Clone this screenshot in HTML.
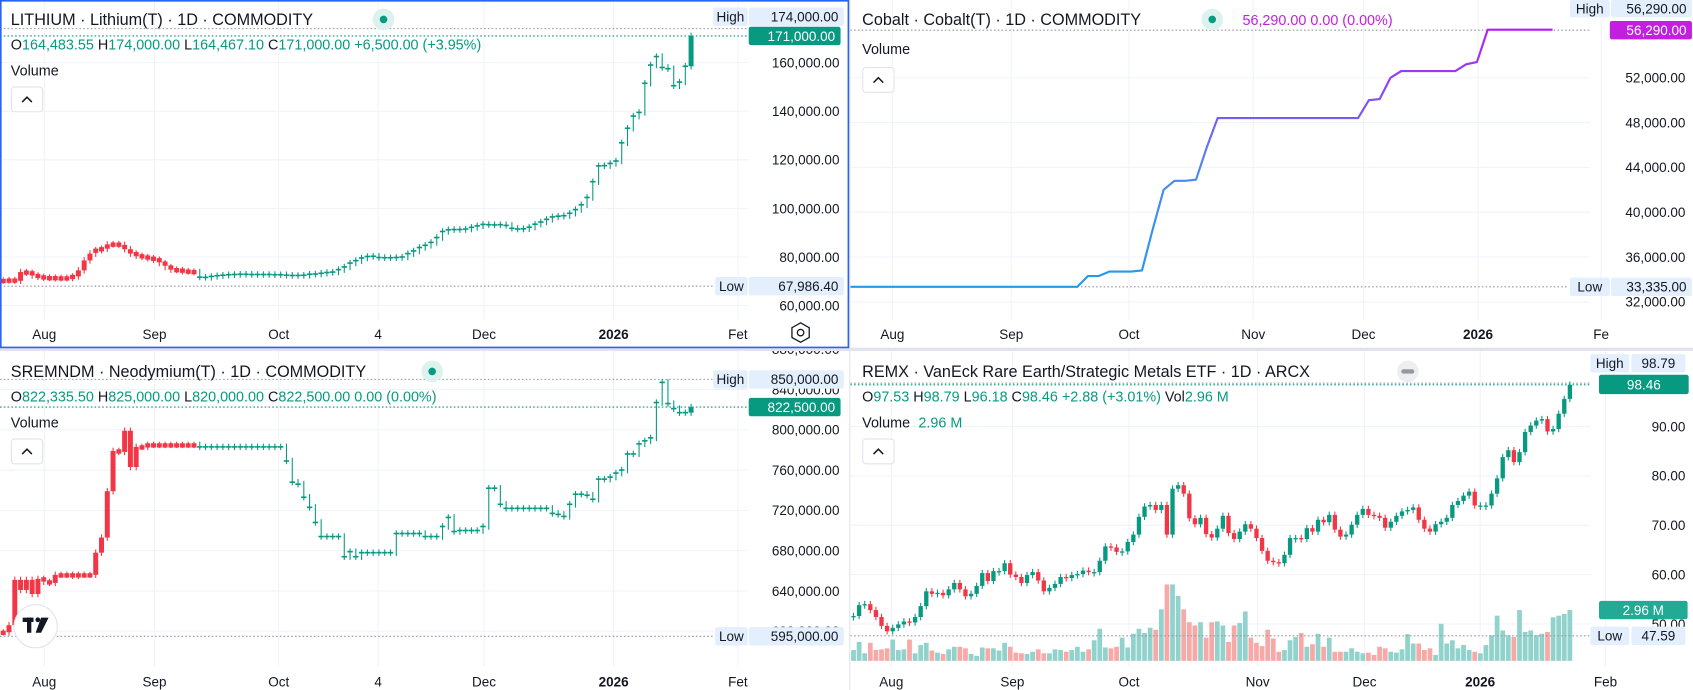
<!DOCTYPE html>
<html><head><meta charset="utf-8">
<style>
html,body{margin:0;padding:0;background:#fff;overflow:hidden;}
svg{display:block;font-family:"Liberation Sans",sans-serif;}
.t{fill:#131722;}
.ax{font-size:12.5px;fill:#131722;}
.tm{font-size:12.5px;fill:#131722;}
</style></head>
<body>
<svg id="root" width="1693" height="690" viewBox="0 0 1567 639" preserveAspectRatio="none" xmlns="http://www.w3.org/2000/svg">
<defs>
<clipPath id="cLT"><rect x="0" y="0" width="693" height="297"/></clipPath>
<clipPath id="cLB"><rect x="0" y="325" width="693" height="292"/></clipPath>
<clipPath id="cRT"><rect x="787" y="0" width="685" height="297"/></clipPath>
<clipPath id="cRB"><rect x="787" y="325" width="685" height="292"/></clipPath>
<clipPath id="cAxLB"><rect x="693" y="325" width="92" height="292"/></clipPath>
<clipPath id="cAxRT"><rect x="1472" y="0" width="95" height="297"/></clipPath>
<clipPath id="cAxRB"><rect x="1472" y="325" width="95" height="292"/></clipPath>
<linearGradient id="cobaltGrad" gradientUnits="userSpaceOnUse" x1="0" y1="266" x2="0" y2="28">
<stop offset="0" stop-color="#1e9de6"/><stop offset="0.45" stop-color="#4f86f2"/><stop offset="0.7" stop-color="#7d55f2"/><stop offset="1" stop-color="#b61ff0"/>
</linearGradient>
</defs>
<rect x="0" y="0" width="1567" height="639" fill="#fff"/>
<g id="gLT"></g>
<g id="gRT"></g>
<g id="gLB"></g>
<g id="gRB"></g>

<line x1="786.5" y1="0" x2="786.5" y2="639" stroke="#e0e3eb" stroke-width="1"/>
<rect x="0" y="322" width="1567" height="3" fill="#e0e3eb"/>
<rect x="0.75" y="0.75" width="784.5" height="321" fill="none" stroke="#2962ff" stroke-width="1.5"/>

<text x="10" y="23" font-size="15" class="t">LITHIUM · Lithium(T) · 1D · COMMODITY</text>
<g><circle cx="355" cy="18" r="10" fill="#dcf2ee"/><circle cx="355" cy="18" r="3.5" fill="#089981"/></g>
<text x="10" y="46" font-size="13.3" fill="#089981"><tspan class="t">O</tspan>164,483.55 <tspan class="t">H</tspan>174,000.00 <tspan class="t">L</tspan>164,467.10 <tspan class="t">C</tspan>171,000.00 +6,500.00 (+3.95%)</text>
<text x="10" y="70" font-size="13.3" class="t">Volume</text>
<g><rect x="10.5" y="80.5" width="29" height="23" rx="3" fill="#fff" stroke="#e0e3eb"/><path d="M20.5 94.5 L25 90 L29.5 94.5" fill="none" stroke="#131722" stroke-width="1.4"/></g>
<g><polygon points="741,299 749,303.5 749,312.5 741,317 733,312.5 733,303.5" fill="none" stroke="#131722" stroke-width="1.2"/><circle cx="741" cy="308" r="3" fill="none" stroke="#131722" stroke-width="1.2"/></g>

<text x="798" y="23" font-size="15" class="t">Cobalt · Cobalt(T) · 1D · COMMODITY</text>
<g><circle cx="1122" cy="18" r="10" fill="#dcf2ee"/><circle cx="1122" cy="18" r="3.5" fill="#089981"/></g>
<text x="1150" y="23" font-size="13.3" fill="#c41fe0">56,290.00 0.00 (0.00%)</text>
<text x="798" y="50" font-size="13.3" class="t">Volume</text>
<g><rect x="798.5" y="62.5" width="29" height="23" rx="3" fill="#fff" stroke="#e0e3eb"/><path d="M808.5 76.5 L813 72 L817.5 76.5" fill="none" stroke="#131722" stroke-width="1.4"/></g>

<text x="10" y="349" font-size="15" class="t">SREMNDM · Neodymium(T) · 1D · COMMODITY</text>
<g><circle cx="400" cy="344" r="10" fill="#dcf2ee"/><circle cx="400" cy="344" r="3.5" fill="#089981"/></g>
<text x="10" y="372" font-size="13.3" fill="#089981"><tspan class="t">O</tspan>822,335.50 <tspan class="t">H</tspan>825,000.00 <tspan class="t">L</tspan>820,000.00 <tspan class="t">C</tspan>822,500.00 0.00 (0.00%)</text>
<text x="10" y="396" font-size="13.3" class="t">Volume</text>
<g><rect x="10.5" y="406.5" width="29" height="23" rx="3" fill="#fff" stroke="#e0e3eb"/><path d="M20.5 420.5 L25 416 L29.5 420.5" fill="none" stroke="#131722" stroke-width="1.4"/></g>
<g><circle cx="33" cy="580" r="20" fill="#fff" stroke="#e0e3eb"/><rect x="21" y="572" width="10" height="4" fill="#131722"/><rect x="25" y="572" width="4" height="14" fill="#131722"/><circle cx="35" cy="574" r="2.2" fill="#131722"/><polygon points="38,572 45,572 38,586 33,586" fill="#131722"/></g>

<text x="798" y="349" font-size="15" class="t">REMX · VanEck Rare Earth/Strategic Metals ETF · 1D · ARCX</text>
<g><circle cx="1303" cy="344" r="10" fill="#eceef2"/><rect x="1297" y="342" width="12" height="4" rx="2" fill="#9598a1"/></g>
<text x="798" y="372" font-size="13.3" fill="#089981"><tspan class="t">O</tspan>97.53 <tspan class="t">H</tspan>98.79 <tspan class="t">L</tspan>96.18 <tspan class="t">C</tspan>98.46 +2.88 (+3.01%) <tspan class="t">Vol</tspan>2.96 M</text>
<text x="798" y="396" font-size="13.3" class="t">Volume <tspan fill="#089981" dx="4">2.96 M</tspan></text>
<g><rect x="798.5" y="406.5" width="29" height="23" rx="3" fill="#fff" stroke="#e0e3eb"/><path d="M808.5 420.5 L813 416 L817.5 420.5" fill="none" stroke="#131722" stroke-width="1.4"/></g>

<g id="labels"></g>
</svg>
<script>
const lithiumCloses=[70.3,70.5,70.2,73.8,73.5,72.4,71.8,71.4,71.5,71.2,
71.4,71.3,72,74.5,78.6,81.4,82.8,83.4,85.2,85.3,
85,83.2,81.4,80.5,80,79.5,78.9,77.5,75.9,74.8,
74.6,74.2,74,73.8,71.7,71.6,72,72.3,72.5,72.7,
72.8,72.9,72.9,72.8,72.8,72.8,72.8,72.7,72.7,72.5,
72.4,72.4,72.5,72.9,73,73.3,73.6,73.8,74.8,75.9,
77.5,78.5,79.6,80.2,80.3,79.8,79.7,79.7,79.8,80,
81.4,82.5,83.9,84.8,86,88,90.5,91.2,91.3,91.3,
91.5,92.2,92.8,93.4,93.3,93.2,93.3,93,91.8,91.5,
91.6,92.3,93.5,94.4,95.5,96.5,96.8,97,98,99.5,
101.5,104.5,111,117.5,117.6,118.5,119.5,127,133,138,
139.5,151.5,159,162.5,158,157.5,150.5,152,158.5,171];
const lithiumTicks=[60,80,100,120,140,160];
const lithiumTickLabels=["60,000.00","80,000.00","100,000.00","120,000.00","140,000.00","160,000.00"];
const lithiumRedBars=34;

const neoCloses=[599,606,651,641,651,637,652,649,648,656,
656,656,655,656,656,656,678,693,739,779,
778,799,763,783,783,785,785,785,785,785,
785,785,785,785,783,783,783,783,783,783,
783,783,783,783,783,783,783,783,783,769,
748,746,733,723,708,694,694,694,694,674,
679,674,678,678,678,678,678,678,697,697,
697,697,697,694,694,694,704,713,699,700,
700,700,700,704,742,742,726,722,722,722,
722,722,722,722,722,717,716,714,726,736,
736,735,731,751,751,753,757,760,776,776,
786,789,792,827,847,826,821,817,817,822.5];
const neoTicks=[600,640,680,720,760,800,840,880];
const neoTickLabels=["600,000.00","640,000.00","680,000.00","720,000.00","760,000.00","800,000.00","840,000.00","880,000.00"];
const neoRedBars=34;

const cobaltValues=[33335,33335,33335,33335,33335,33335,33335,33335,33335,33335,
33335,33335,33335,33335,33335,33335,33335,33335,33335,33335,
33335,33335,34300,34300,34700,34700,34700,34800,38500,42000,
42800,42800,42900,45800,48400,48400,48400,48400,48400,48400,
48400,48400,48400,48400,48400,48400,48400,48400,50000,50100,
52000,52600,52600,52600,52600,52600,52600,53200,53400,56290,
56290,56290,56290,56290,56290,56290];
const cobaltTicks=[32000,36000,40000,44000,48000,52000];
const cobaltTickLabels=["32,000.00","36,000.00","40,000.00","44,000.00","48,000.00","52,000.00"];

const remxCloses=[51.6,53.8,54,52.8,51.4,49.6,48.5,49.2,49.9,50.5,
50.3,51.4,53.6,56.6,56.1,56.3,55.8,57,58.3,57,
55.6,56.1,57.7,60.3,58.7,60.7,60.7,62.3,60,59.5,
58.3,59.9,60.5,58.8,56.6,57.3,58.1,59.5,59.3,59.9,
60.1,60.8,60.5,60.5,62.8,65.7,65.5,64.6,64.7,66.6,
68.1,71.7,73.8,74.1,73.1,74.1,68.1,77.4,78.1,76.4,
71.4,70.2,71.5,68.2,67.5,69.3,71.9,68.4,67.2,68.7,
70.2,69.3,67.4,64.8,62.8,62.5,62.3,64,67.4,67.4,
67.2,69.4,68.7,71.1,70.6,72.1,69.1,67.7,68.1,70.1,
72.1,73.3,72.1,71.9,71.5,69.5,70.7,71.9,72.8,73.1,
73.6,71.1,69.3,68.7,70.2,70.7,71.5,74.1,74.9,76,
76.8,74,74,74,76.4,79.5,83.8,85.2,82.8,84.8,
88.9,90.2,91.2,91.5,89,89.5,92.6,95.6,98.46];
const remxVolumes=[0.63,1.1,0.44,1.05,0.63,0.67,0.73,1.24,0.63,0.67,
1.24,0.44,0.92,1.05,0.6,0.48,0.4,0.67,0.82,0.82,
0.73,0.4,0.29,0.78,0.73,0.73,0.6,1.05,0.82,0.48,
0.44,0.4,0.53,0.67,0.44,0.44,0.67,0.63,0.53,0.63,
0.82,0.53,0.67,1.2,1.87,0.78,0.73,0.82,1.35,0.78,
1.58,1.87,1.62,1.93,1.81,3.0,4.45,4.45,3.78,3.0,
2.25,2.06,2.25,1.35,2.25,2.3,2.06,1.1,2.06,2.2,
2.88,1.35,1.05,0.86,1.81,1.3,0.53,0.63,1.2,1.39,
1.62,0.82,0.97,1.58,0.82,1.35,0.53,0.53,0.53,0.73,
0.53,0.44,0.48,0.34,0.82,0.73,0.53,0.48,0.67,1.55,
1.01,1.01,0.63,0.73,0.34,2.16,1.01,1.2,0.73,0.92,
0.63,0.53,0.44,0.92,1.49,2.63,1.77,1.49,1.39,2.96,
1.68,1.77,1.49,1.58,1.68,2.54,2.63,2.73,2.96];
const remxTicks=[50,60,70,80,90];
const remxTickLabels=["50.00","60.00","70.00","80.00","90.00"];

const leftTimeLabels=["Aug","Sep","Oct","4","Dec","2026","Fet"];
const rightTopTimeLabels=["Aug","Sep","Oct","Nov","Dec","2026","Fe"];
const rightBottomTimeLabels=["Aug","Sep","Oct","Nov","Dec","2026","Feb"];

const leftTimeX=[41,143,258,350,448,568,683];
const rightTopTimeX=[826,936,1045,1160,1262,1368,1482];
const rightBottomTimeX=[825,937,1045,1164,1263,1370,1486];

const NS="http://www.w3.org/2000/svg";
const UP="#089981", DOWN="#f23645";
function mk(tag,attrs,parent){const e=document.createElementNS(NS,tag);for(const k in attrs)e.setAttribute(k,attrs[k]);if(parent)parent.appendChild(e);return e;}

const yL=p=>58+(160-p)*2.25, xL=i=>3+i*5.35;
const yN=p=>398+(800-p)*0.933, xN=i=>3+i*5.35;
const yC=p=>72+(52000-p)*0.010375, xC=i=>787+i*10;
const yR=p=>395+(90-p)*4.57, xR=i=>790+i*5.18;
const yV=v=>612-v*15.9;

function grid(g,ys,xs,x0,x1,y0,y1){
  ys.forEach(y=>{const l=mk('line',{x1:x0,x2:x1,y1:y,y2:y,stroke:'#f0f3fa','stroke-width':1},g);
    
    });
  xs.forEach(x=>{const l=mk('line',{x1:x,x2:x,y1:y0,y2:y1,stroke:'#f0f3fa','stroke-width':1},g);
    
    });
}
function axisLabels(g,vals,labels,yf,xr,clip){
  const ag=mk('g',{'clip-path':clip?'url(#'+clip+')':''},g);
  vals.forEach((v,i)=>{const t=mk('text',{x:xr,y:yf(v)+4.5,'text-anchor':'end',class:'ax'},ag);
    
    
    t.textContent=labels[i];});
}
function timeLabels(g,labels,xs,y){
  labels.forEach((s,i)=>{const t=mk('text',{x:xs[i],y:y,'text-anchor':'middle',class:'tm','font-weight':s==='2026'?'bold':'normal'},g);
    
    
    t.textContent=s;});
}
function tickBars(g,closes,xf,yf,redUntil,name){
  closes.forEach((c,i)=>{
    const o=i>0?closes[i-1]:c;
    const x=xf(i), yo=yf(o), yc=yf(c);
    const red=i<redUntil;
    const col=red?DOWN:UP;
    const top=Math.min(yo,yc)-3, bot=Math.max(yo,yc)+3;
    const w=mk('line',{x1:x,x2:x,y1:top,y2:bot,stroke:col,'stroke-width':1},g);
    
    
    let b;
    if(red){const h=Math.max(Math.abs(yc-yo),4);const yt=Math.min(yo,yc)-(h>Math.abs(yc-yo)?1.5:0);
      b=mk('rect',{x:x-2.3,y:yt,width:4.6,height:h,fill:col},g);}
    else if(i===closes.length-1){b=mk('rect',{x:x-2.3,y:Math.min(yo,yc),width:4.6,height:Math.max(Math.abs(yc-yo),1.5),fill:col},g);}
    else {b=mk('rect',{x:x-2.5,y:yc-0.75,width:5,height:1.5,fill:col},g);}
    
    
  });
}

(function(){
  const g=document.getElementById('gLT');
  grid(g,lithiumTicks.map(yL),leftTimeX,0,693,0,297);
  const pg=mk('g',{'clip-path':'url(#cLT)'},g);
  mk('line',{x1:0,x2:693,y1:yL(174),y2:yL(174),stroke:'#9598a1','stroke-dasharray':'1.5 2'},pg);
  mk('line',{x1:0,x2:693,y1:yL(171),y2:yL(171),stroke:UP,'stroke-dasharray':'1.5 2'},pg);
  mk('line',{x1:0,x2:660,y1:yL(67.9864),y2:yL(67.9864),stroke:'#9598a1','stroke-dasharray':'1.5 2'},pg);
  tickBars(pg,lithiumCloses,xL,yL,lithiumRedBars,'lithium');
  axisLabels(g,lithiumTicks,lithiumTickLabels,yL,777);
  timeLabels(g,leftTimeLabels,leftTimeX,314);
})();

(function(){
  const g=document.getElementById('gLB');
  grid(g,neoTicks.map(yN),leftTimeX,0,693,325,617);
  const pg=mk('g',{'clip-path':'url(#cLB)'},g);
  mk('line',{x1:0,x2:693,y1:yN(850),y2:yN(850),stroke:'#9598a1','stroke-dasharray':'1.5 2'},pg);
  mk('line',{x1:0,x2:693,y1:yN(822.5),y2:yN(822.5),stroke:UP,'stroke-dasharray':'1.5 2'},pg);
  mk('line',{x1:0,x2:660,y1:yN(595),y2:yN(595),stroke:'#9598a1','stroke-dasharray':'1.5 2'},pg);
  tickBars(pg,neoCloses,xN,yN,neoRedBars,'neodymium');
  axisLabels(g,neoTicks,neoTickLabels,yN,777,'cAxLB');
  timeLabels(g,leftTimeLabels,leftTimeX,636);
})();

(function(){
  const g=document.getElementById('gRT');
  grid(g,cobaltTicks.map(yC),rightTopTimeX,787,1472,0,297);
  const pg=mk('g',{'clip-path':'url(#cRT)'},g);
  mk('line',{x1:787,x2:1472,y1:yC(56290)+0.5,y2:yC(56290)+0.5,stroke:'#9598a1','stroke-dasharray':'1.5 2'},pg);
  mk('line',{x1:787,x2:1450,y1:yC(33335),y2:yC(33335),stroke:'#9598a1','stroke-dasharray':'1.5 2'},pg);
  const pts=cobaltValues.map((v,i)=>xC(i)+','+yC(v)).join(' ');
  const pl=mk('polyline',{points:pts,fill:'none',stroke:'url(#cobaltGrad)','stroke-width':2,'stroke-linejoin':'round'},pg);
  
  
  axisLabels(g,cobaltTicks,cobaltTickLabels,yC,1560,'cAxRT');
  timeLabels(g,rightTopTimeLabels,rightTopTimeX,314);
})();

(function(){
  const g=document.getElementById('gRB');
  grid(g,remxTicks.map(yR),rightBottomTimeX,787,1472,325,617);
  const pg=mk('g',{'clip-path':'url(#cRB)'},g);
  remxVolumes.forEach((v,i)=>{
    const o=i>0?remxCloses[i-1]:remxCloses[i];
    const up=remxCloses[i]>=o;
    const r=mk('rect',{x:xR(i)-2.2,y:yV(v),width:4.4,height:612-yV(v),fill:up?'#92d2cc':'#f7a9a7'},pg);
    
    
  });
  mk('line',{x1:787,x2:1472,y1:yR(98.79),y2:yR(98.79),stroke:'#9598a1','stroke-dasharray':'1.5 2'},pg);
  mk('line',{x1:787,x2:1472,y1:yR(98.46),y2:yR(98.46),stroke:UP,'stroke-dasharray':'1.5 2'},pg);
  mk('line',{x1:787,x2:1472,y1:yR(47.59),y2:yR(47.59),stroke:'#9598a1','stroke-dasharray':'1.5 2'},pg);
  remxCloses.forEach((c,i)=>{
    const o=i>0?remxCloses[i-1]:c;
    const up=c>=o, col=up?UP:DOWN;
    const x=xR(i), yo=yR(o), yc=yR(c);
    const top=Math.min(yo,yc), h=Math.max(Math.abs(yc-yo),1.2);
    const w=mk('line',{x1:x,x2:x,y1:top-3,y2:top+h+3,stroke:col,'stroke-width':1},pg);
    
    
    const b=mk('rect',{x:x-2,y:top,width:4,height:h,fill:col},pg);
    
    
  });
  axisLabels(g,remxTicks,remxTickLabels,yR,1560,'cAxRB');
  timeLabels(g,rightBottomTimeLabels,rightBottomTimeX,636);
})();

(function(){
  const L=document.getElementById('labels');
  function box(name,x,y,w,h,bg,txt,fg,anchor){
    const g=mk('g',{},L);
    
    
    mk('rect',{x:x,y:y,width:w,height:h,fill:bg,rx:2},g);
    const t=mk('text',{x:anchor==='end'?x+w-5:x+w/2,y:y+h/2+4.5,'text-anchor':anchor||'middle','font-size':12.5,fill:fg},g);
    t.textContent=txt;
  }
  const LB='#e3effd';
  box('lithium-high-tag',660,7,32,17,LB,'High','#131722');
  box('lithium-high-price',693,7,88,17,LB,'174,000.00','#131722','end');
  box('lithium-last-price',693,yL(171)-8.5,85,17,UP,'171,000.00','#fff','end');
  box('lithium-low-tag',662,yL(67.9864)-8.5,30,17,LB,'Low','#131722');
  box('lithium-low-price',693,yL(67.9864)-8.5,88,17,LB,'67,986.40','#131722','end');
  box('neodymium-high-tag',660,yN(850)-8.5,32,17,LB,'High','#131722');
  box('neodymium-high-price',693,yN(850)-8.5,88,17,LB,'850,000.00','#131722','end');
  box('neodymium-last-price',693,yN(822.5)-8.5,85,17,UP,'822,500.00','#fff','end');
  box('neodymium-low-tag',662,yN(595)-8.5,30,17,LB,'Low','#131722');
  box('neodymium-low-price',693,yN(595)-8.5,88,17,LB,'595,000.00','#131722','end');
  box('cobalt-high-tag',1453,0,37,16,LB,'High','#131722');
  box('cobalt-high-price',1491,0,75,16,LB,'56,290.00','#131722','end');
  box('cobalt-last-price',1490,yC(56290)-8,76,17,'#c41fe0','56,290.00','#fff','end');
  box('cobalt-low-tag',1453,yC(33335)-8.5,37,17,LB,'Low','#131722');
  box('cobalt-low-price',1491,yC(33335)-8.5,75,17,LB,'33,335.00','#131722','end');
  box('remx-high-tag',1472,328,36,17,LB,'High','#131722');
  box('remx-high-price',1510,328,50,17,LB,'98.79','#131722');
  box('remx-last-price',1480,347,83,18,UP,'98.46','#fff');
  box('remx-volume-price',1480,yV(2.96)-8.5,82,17,'#22ab94','2.96 M','#fff');
  box('remx-low-tag',1472,yR(47.59)-8.5,36,17,LB,'Low','#131722');
  box('remx-low-price',1510,yR(47.59)-8.5,50,17,LB,'47.59','#131722');
})();
</script>
</body></html>
